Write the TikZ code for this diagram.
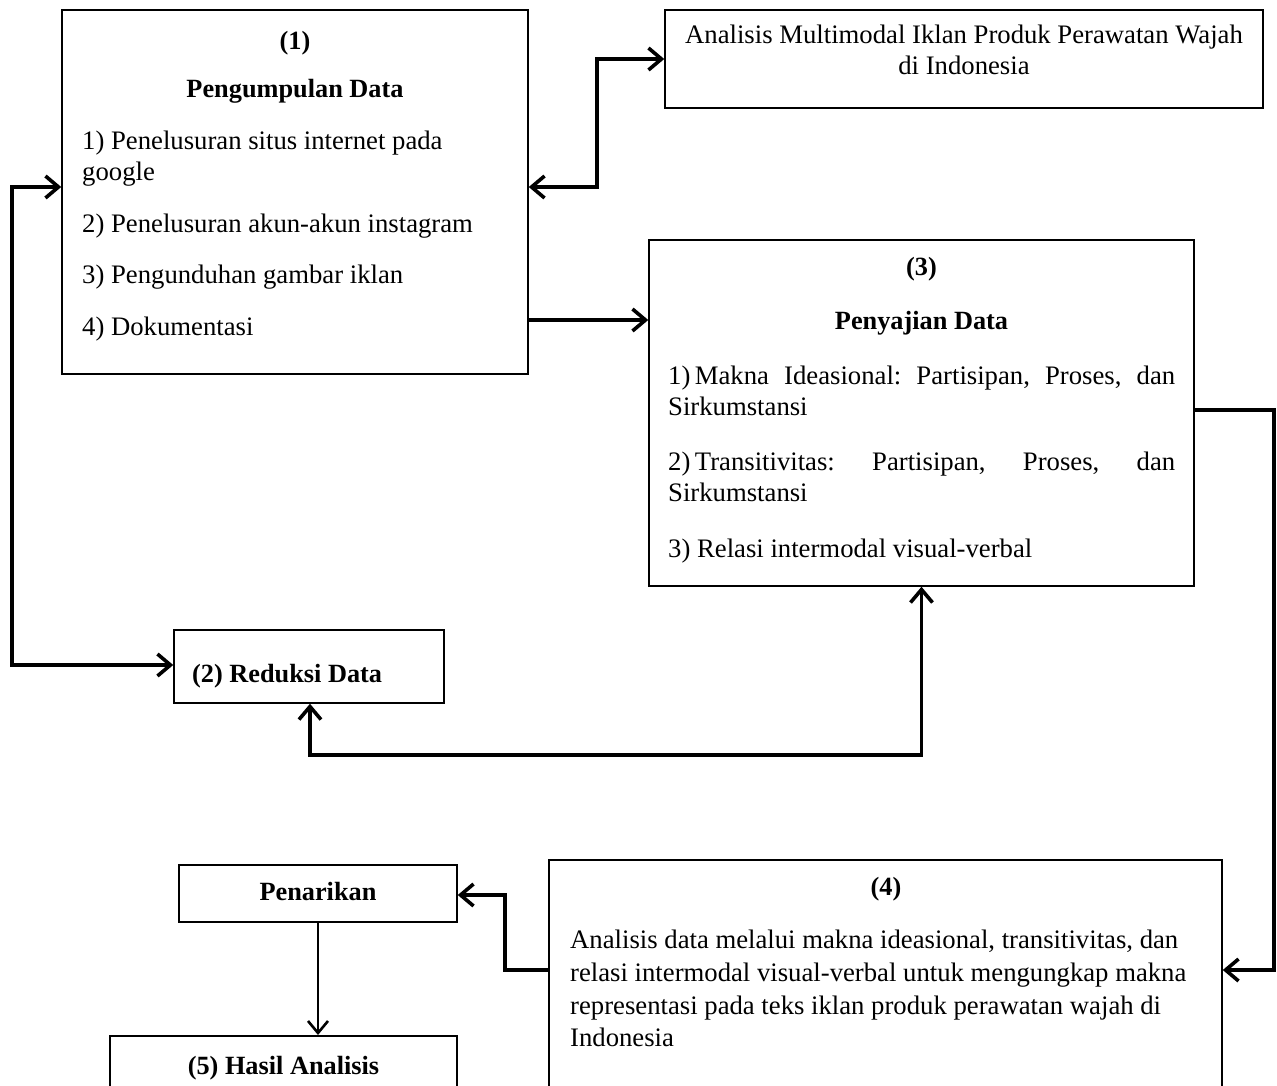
\documentclass[tikz,border=0pt]{standalone}
\usepackage{fontspec}
\setmainfont{Liberation Serif}
\usetikzlibrary{arrows.meta}
\begin{document}
\begin{tikzpicture}[x=1pt,y=-1pt,
  box/.style={draw, line width=1.5pt, inner sep=0pt},
  txt/.style={inner sep=0pt, font=\fontsize{26.7}{32}\selectfont},
  btxt/.style={inner sep=0pt, font=\fontsize{26.3}{32}\selectfont\bfseries},
  tip/.tip={Straight Barb[length=13pt,width=22pt]},
  conn/.style={line width=3.6pt, -tip},
  dconn/.style={line width=3.6pt, tip-tip},
  thinconn/.style={line width=2.6pt, -{Straight Barb[length=12pt,width=20pt]}}]
\clip (0,0) rectangle (1277,1086);
\fill[white] (0,0) rectangle (1277,1086);
% boxes
\node[box, minimum width=466pt, minimum height=364pt] (b1) at (295,192) {};
\node[box, minimum width=598pt, minimum height=98pt] (t) at (964,59) {};
\node[box, minimum width=545pt, minimum height=346pt] (b3) at (921.5,413) {};
\node[box, minimum width=270pt, minimum height=73pt] (b2) at (309,666.5) {};
\node[box, minimum width=278pt, minimum height=57pt] (pen) at (318,893.5) {};
\node[box, minimum width=347pt, minimum height=120pt, anchor=north] (b5) at (283.5,1035) {};
\node[box, minimum width=673pt, minimum height=260pt, anchor=north] (b4) at (885.5,859) {};
% box 1 text
\node[btxt, anchor=mid] (b1h1) at (295,47) {(1)};
\node[btxt, anchor=mid] (b1h2) at (295,95) {Pengumpulan Data};
\node[txt, anchor=mid west] (b1l1) at (82,147) {1) Penelusuran situs internet pada};
\node[txt, anchor=mid west] (b1l2) at (82,178) {google};
\node[txt, anchor=mid west] (b1l3) at (82,230) {2) Penelusuran akun-akun instagram};
\node[txt, anchor=mid west] (b1l4) at (82,281) {3) Pengunduhan gambar iklan};
\node[txt, anchor=mid west] (b1l5) at (82,333) {4) Dokumentasi};
% top right
\node[txt, anchor=mid] (tl1) at (964,41) {Analisis Multimodal Iklan Produk Perawatan Wajah};
\node[txt, anchor=mid] (tl2) at (964,72) {di Indonesia};
% box 3 text
\node[btxt, anchor=mid] (b3h1) at (921.5,273) {(3)};
\node[btxt, anchor=mid] (b3h2) at (921.5,327) {Penyajian Data};
\node[txt, anchor=mid west] (b3l1) at (668,382) {\hbox to 507pt{1)\,Makna\hfill Ideasional:\hfill Partisipan,\hfill Proses,\hfill dan}};
\node[txt, anchor=mid west] (b3l2) at (668,413) {Sirkumstansi};
\node[txt, anchor=mid west] (b3l3) at (668,468) {\hbox to 507pt{2)\,Transitivitas:\hfill Partisipan,\hfill Proses,\hfill dan}};
\node[txt, anchor=mid west] (b3l4) at (668,499) {Sirkumstansi};
\node[txt, anchor=mid west] (b3l5) at (668,555) {3) Relasi intermodal visual-verbal};
% reduksi
\node[btxt, anchor=mid west] (b2t) at (192,680) {(2) Reduksi Data};
% penarikan
\node[btxt, anchor=mid] (pent) at (318,898) {Penarikan};
% box 4 text
\node[btxt, anchor=mid] (b4h) at (886,893) {(4)};
\node[txt, anchor=mid west] (b4l1) at (570,946) {Analisis data melalui makna ideasional, transitivitas, dan};
\node[txt, anchor=mid west] (b4l2) at (570,979) {relasi intermodal visual-verbal untuk mengungkap makna};
\node[txt, anchor=mid west] (b4l3) at (570,1012) {representasi pada teks iklan produk perawatan wajah di};
\node[txt, anchor=mid west] (b4l4) at (570,1044) {Indonesia};
% hasil
\node[btxt, anchor=mid] (b5t) at (283.5,1072) {(5) Hasil Analisis};
% connectors
\coordinate (c1a) at (597,187);
\coordinate (c1b) at (597,59);
\draw[dconn] (b1.east |- c1a) -- (c1a) -- (c1b) -- (t.west);
\coordinate (c2) at (0,320);
\draw[conn] (b1.east |- c2) -- (b3.west |- c2);
\coordinate (c3a) at (12,187);
\coordinate (c3b) at (12,665);
\draw[dconn] (b1.west |- c3a) -- (c3a) -- (c3b) -- (b2.west |- c3b);
\coordinate (c4a) at (310,755);
\coordinate (c4b) at (921.5,755);
\draw[dconn] (b2.south -| c4a) -- (c4a) -- (c4b) -- (b3.south);
\coordinate (c5a) at (1274,410);
\coordinate (c5b) at (1274,970);
\draw[conn] (b3.east |- c5a) -- (c5a) -- (c5b) -- (b4.east |- c5b);
\coordinate (c6a) at (505,970);
\coordinate (c6b) at (505,895);
\draw[conn] (b4.west |- c6a) -- (c6a) -- (c6b) -- (pen.east |- c6b);
\draw[thinconn] (pen.south) -- (pen.south |- b5.north);
\end{tikzpicture}
\end{document}
